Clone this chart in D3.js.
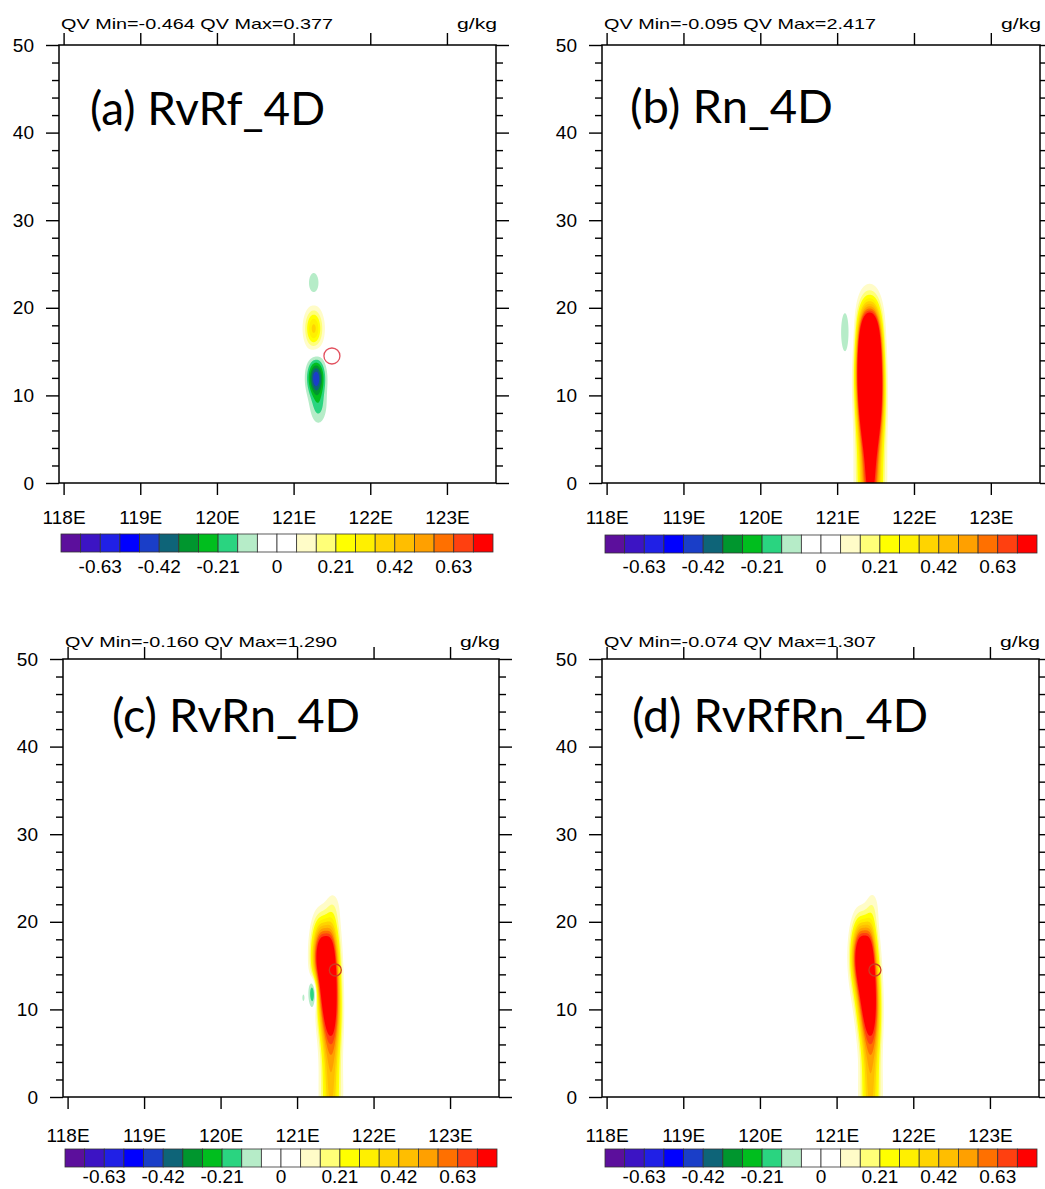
<!DOCTYPE html>
<html>
<head>
<meta charset="utf-8">
<script src="https://cdn.jsdelivr.net/npm/d3@7"></script>
<style>
  body { margin: 0; background: #fff; }
  svg text { font-family: "Liberation Sans", Arial, sans-serif; fill: #000; }
</style>
</head>
<body>
<svg id="chart" width="1045" height="1189"></svg>
<script>

// ---- data ----
var panelTitles = ["(a) RvRf_4D", "(b) Rn_4D", "(c) RvRn_4D", "(d) RvRfRn_4D"];
var qvMin = [-0.464, -0.095, -0.160, -0.074];
var qvMax = [0.377, 2.417, 1.290, 1.307];

var lonTicks = [118, 119, 120, 121, 122, 123];
var hgtTicks = [0, 10, 20, 30, 40, 50];
var hgtMinor = [2, 4, 6, 8, 12, 14, 16, 18, 22, 24, 26, 28, 32, 34, 36, 38, 42, 44, 46, 48];

// contour levels (g/kg) and the 22 colours of the label bar
var levels = [-0.70, -0.63, -0.56, -0.49, -0.42, -0.35, -0.28, -0.21, -0.14, -0.07, 0,
              0.07, 0.14, 0.21, 0.28, 0.35, 0.42, 0.49, 0.56, 0.63, 0.70];
var fillColors = ["#5c0f9c", "#3c14c4", "#2020e6", "#0000ff", "#1a3ec8", "#0e6478",
                  "#00962e", "#00be1e", "#2ad480", "#b6ecc8", "#ffffff", "#ffffff",
                  "#fffcc8", "#ffff78", "#ffff00", "#fff000", "#ffd400", "#ffbe00",
                  "#ffa000", "#ff7000", "#ff4010", "#ff0000"];
var barLabels = ["-0.63", "-0.42", "-0.21", "0", "0.21", "0.42", "0.63"];
var barLabelIdx = [1, 4, 7, 10, 13, 16, 19];

// QV anomaly cells: [lon, height, amplitude, lon spread, height spread, shape power]
var rvrfCells = [
  [121.26, 22.8, -0.12, 0.06, 1.1, 2],
  [121.26, 17.6, 0.37, 0.08, 1.5, 2],
  [121.29, 12.0, -0.47, 0.075, 1.4, 2],
  [121.32, 8.8, -0.16, 0.078, 1.5, 2]
];
var rnCells = [
  [121.10, 17.2, -0.095, 0.065, 2.8, 2],
  [121.43, -1.5, 0.50, 0.10, 2.5, 2],
  [121.43, 2.0, 0.45, 0.10, 2.5, 2],
  [121.43, 5.5, 0.60, 0.11, 2.5, 2.5],
  [121.43, 9.0, 1.00, 0.125, 2.5, 3],
  [121.42, 12.5, 1.35, 0.125, 2.5, 3],
  [121.42, 16.0, 1.15, 0.115, 2.3, 3],
  [121.42, 19.0, 0.30, 0.09, 2.0, 2]
];
var rvrnCells = [
  [121.21, 12.0, -0.30, 0.042, 1.25, 2],
  [121.08, 11.3, -0.09, 0.018, 0.5, 2],
  [121.44, -1.5, 0.27, 0.085, 2.5, 2],
  [121.44, 2.0, 0.25, 0.085, 2.5, 2],
  [121.44, 5.5, 0.30, 0.085, 2.5, 2.5],
  [121.43, 9.0, 0.50, 0.11, 2.5, 3],
  [121.41, 12.5, 0.62, 0.115, 2.5, 3],
  [121.36, 16.0, 0.82, 0.13, 2.4, 3],
  [121.38, 18.6, 0.15, 0.12, 1.8, 3],
  [121.47, 21.5, 0.09, 0.07, 1.5, 2]
];
var rvrfrnCells = [
  [121.26, 22.9, -0.074, 0.012, 0.2, 2],
  [121.44, -1.5, 0.28, 0.085, 2.5, 2],
  [121.44, 2.0, 0.25, 0.085, 2.5, 2],
  [121.44, 5.5, 0.30, 0.085, 2.5, 2.5],
  [121.43, 9.0, 0.50, 0.11, 2.5, 3],
  [121.40, 12.5, 0.62, 0.12, 2.5, 3],
  [121.35, 16.0, 0.83, 0.125, 2.4, 3],
  [121.37, 18.6, 0.16, 0.11, 1.8, 3],
  [121.47, 21.6, 0.09, 0.06, 1.5, 2]
];
var markerLon = 121.5, markerHgt = 14.5;

// ---- layout ----
var lonDomain = [117.94, 123.64], hgtDomain = [0, 50];
var layout = [
  {left: 59,  top: 45,  w: 437, h: 438, xPad: 16, cbx: 61,  cby: 534,  cbLab: 573,  qvY: 29,  labX: 90,  labY: 125, labW: 235, markR: 8, markC: "#e2505e"},
  {left: 602, top: 45,  w: 438, h: 438, xPad: 16, cbx: 605, cby: 535,  cbLab: 573,  qvY: 29,  labX: 630, labY: 123, labW: 203, markR: 0, markC: "#ff0000"},
  {left: 63,  top: 659, w: 436, h: 438, xPad: 20, cbx: 65,  cby: 1149, cbLab: 1183, qvY: 647, labX: 112, labY: 732, labW: 248, markR: 6, markC: "#d03a20"},
  {left: 602, top: 659, w: 437, h: 438, xPad: 20, cbx: 605, cby: 1149, cbLab: 1183, qvY: 647, labX: 632, labY: 732, labW: 296, markR: 6, markC: "#d03a20"}
];
var panelCells = [rvrfCells, rnCells, rvrnCells, rvrfrnCells];

// computation grid for the contour fill
var gLon0 = 120.5, gLon1 = 122.4, gDx = 0.005;
var gH0 = -4, gH1 = 28, gDy = 0.05;
var nx = Math.round((gLon1 - gLon0) / gDx) + 1,
    ny = Math.round((gH1 - gH0) / gDy) + 1;

function gridField(cells) {
  var v = new Float64Array(nx * ny);
  cells.forEach(function(c) {
    for (var j = 0; j < ny; j++) {
      var dh = (gH0 + j * gDy - c[1]) / c[4];
      var eh = dh * dh / 2;
      if (eh > 30) continue;
      for (var i = 0; i < nx; i++) {
        var dl = Math.abs(gLon0 + i * gDx - c[0]) / c[3];
        var el = Math.pow(dl, c[5]) / 2;
        if (el > 30) continue;
        v[j * nx + i] += c[2] * Math.exp(-(eh + el));
      }
    }
  });
  return v;
}

var posLevels = levels.filter(function(d) { return d > 0; });

var svg = d3.select("#chart");
var defs = svg.append("defs");

panelCells.forEach(function(cells, k) {
  var L = layout[k];
  var x = d3.scaleLinear().domain(lonDomain).range([L.left, L.left + L.w]);
  var y = d3.scaleLinear().domain(hgtDomain).range([L.top + L.h, L.top]);
  var g = svg.append("g").attr("class", "panel");

  defs.append("clipPath").attr("id", "clip" + k)
    .append("rect").attr("x", L.left).attr("y", L.top).attr("width", L.w).attr("height", L.h);

  var values = gridField(cells);
  var neg = values.map(function(d) { return -d; });
  var proj = d3.geoTransform({
    point: function(gx, gy) {
      this.stream.point(x(gLon0 + gx * gDx), y(gH0 + gy * gDy));
    }
  });
  var path = d3.geoPath(proj);
  var cg = g.append("g").attr("clip-path", "url(#clip" + k + ")");

  var contours = d3.contours().size([nx, ny]).thresholds(posLevels);
  cg.selectAll("path.pos")
    .data(contours(values))
    .join("path")
      .attr("class", "pos")
      .attr("d", path)
      .attr("fill", function(d, i) { return fillColors[12 + i]; });
  cg.selectAll("path.neg")
    .data(contours(neg))
    .join("path")
      .attr("class", "neg")
      .attr("d", path)
      .attr("fill", function(d, i) { return fillColors[9 - i]; });

  if (L.markR > 0) {
    cg.append("circle")
      .attr("cx", x(markerLon))
      .attr("cy", y(markerHgt))
      .attr("r", L.markR)
      .attr("fill", "none")
      .attr("stroke", L.markC)
      .attr("stroke-width", 1.3);
  }

  // axes
  function style(sel) {
    sel.select(".domain").remove();
    sel.attr("font-size", 19).attr("font-family", null);
    sel.selectAll("line").attr("stroke-width", 1.4);
  }
  g.append("g").attr("transform", "translate(0," + (L.top + L.h) + ")")
    .call(d3.axisBottom(x).tickValues(lonTicks).tickFormat(function(d) { return d + "E"; })
      .tickSize(12).tickPadding(L.xPad))
    .call(style);
  g.append("g").attr("transform", "translate(0," + L.top + ")")
    .call(d3.axisTop(x).tickValues(lonTicks).tickFormat("").tickSize(12))
    .call(style);
  g.append("g").attr("transform", "translate(" + L.left + ",0)")
    .call(d3.axisLeft(y).tickValues(hgtTicks).tickFormat(d3.format("d")).tickSize(13).tickPadding(12))
    .call(style);
  g.append("g").attr("transform", "translate(" + L.left + ",0)")
    .call(d3.axisLeft(y).tickValues(hgtMinor).tickFormat("").tickSize(7))
    .call(style);
  g.append("g").attr("transform", "translate(" + (L.left + L.w) + ",0)")
    .call(d3.axisRight(y).tickValues(hgtTicks).tickFormat("").tickSize(13))
    .call(style);
  g.append("g").attr("transform", "translate(" + (L.left + L.w) + ",0)")
    .call(d3.axisRight(y).tickValues(hgtMinor).tickFormat("").tickSize(7))
    .call(style);

  g.append("rect")
    .attr("x", L.left).attr("y", L.top).attr("width", L.w).attr("height", L.h)
    .attr("fill", "none").attr("stroke", "#000").attr("stroke-width", 1.5);

  // header strings
  g.append("text")
    .attr("x", L.left + 2).attr("y", L.qvY)
    .attr("font-size", 15)
    .attr("textLength", 272).attr("lengthAdjust", "spacingAndGlyphs")
    .text("QV Min=" + qvMin[k].toFixed(3) + " QV Max=" + qvMax[k].toFixed(3));
  g.append("text")
    .attr("x", L.left + L.w + 1).attr("y", L.qvY)
    .attr("text-anchor", "end")
    .attr("font-size", 15)
    .attr("textLength", 40).attr("lengthAdjust", "spacingAndGlyphs")
    .text("g/kg");

  g.append("text")
    .attr("x", L.labX).attr("y", L.labY)
    .style("font-family", "Lato, 'Open Sans', sans-serif")
    .attr("font-size", 46)
    .attr("textLength", L.labW).attr("lengthAdjust", "spacingAndGlyphs")
    .text(panelTitles[k]);

  // label bar
  var bw = 432 / fillColors.length;
  var bar = g.append("g");
  bar.selectAll("rect")
    .data(fillColors)
    .join("rect")
      .attr("x", function(d, i) { return L.cbx + i * bw; })
      .attr("y", L.cby)
      .attr("width", bw).attr("height", 18)
      .attr("fill", function(d) { return d; })
      .attr("stroke", "#333").attr("stroke-width", 0.8);
  bar.selectAll("text")
    .data(barLabels)
    .join("text")
      .attr("x", function(d, i) { return L.cbx + (barLabelIdx[i] + 1) * bw; })
      .attr("y", L.cbLab)
      .attr("text-anchor", "middle")
      .attr("font-size", 19)
      .text(function(d) { return d; });
});

</script>
</body>
</html>
